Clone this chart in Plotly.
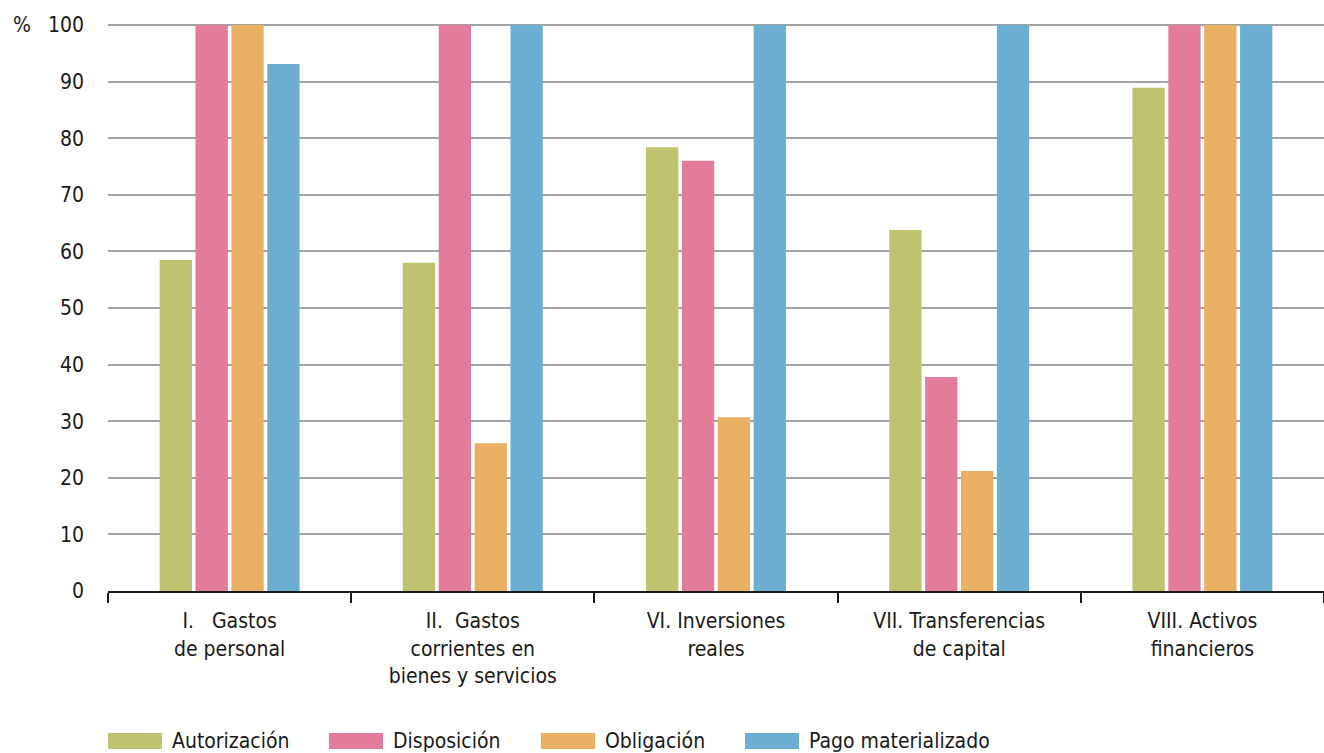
import plotly.graph_objects as go

categories = [
    "I.\u00a0\u00a0\u00a0Gastos<br>de personal",
    "II.\u00a0\u00a0Gastos<br>corrientes en<br>bienes y servicios",
    "VI. Inversiones<br>reales",
    "VII. Transferencias<br>de capital",
    "VIII. Activos<br>financieros",
]
series_names = ["Autorización", "Disposición", "Obligación", "Pago materializado"]
autorizacion = [58.5, 58.0, 78.4, 63.8, 88.9]
disposicion = [100, 100, 76.0, 37.8, 100]
obligacion = [100, 26.1, 30.7, 21.2, 100]
pago = [93.1, 100, 100, 100, 100]
series_values = [autorizacion, disposicion, obligacion, pago]
colors = ["#BFC26E", "#E37B9B", "#E9AF62", "#6BAED2"]
y_ticks = list(range(0, 101, 10))

FONT = "DejaVu Sans Condensed, Roboto, sans-serif"
FS = 21

fig = go.Figure()
for name, vals, col in zip(series_names, series_values, colors):
    fig.add_trace(go.Bar(x=categories, y=vals, name=name, marker_color=col,
                         marker_line_width=0, showlegend=False))

W, H = 1324, 753
ml, mr, mt, mb = 108, 0, 23, 162
pw = W - ml - mr
ph = H - mt - mb

fig.update_layout(
    width=W, height=H,
    margin=dict(l=ml, r=mr, t=mt, b=mb),
    plot_bgcolor="white", paper_bgcolor="white",
    barmode="group", bargap=0.41, bargroupgap=0.1,
    font=dict(family=FONT, size=FS, color="#1a1a1a"),
    xaxis=dict(
        tickson="boundaries", ticks="outside", ticklen=10, tickwidth=2,
        tickcolor="#1a1a1a", showline=True, linecolor="#1a1a1a", linewidth=2,
        showgrid=False, tickfont=dict(size=FS), ticklabelstandoff=10,
    ),
    yaxis=dict(
        range=[0, 100.35], tickvals=y_ticks, showgrid=True, gridcolor="#A3A3A3",
        gridwidth=2, zeroline=False, showline=False, ticks="",
        tickfont=dict(size=FS), ticklabelstandoff=23,
    ),
)

fig.add_annotation(text="%", xref="paper", yref="paper", x=(22 - ml) / pw,
                   y=(H - mb - 25) / ph, xanchor="center", yanchor="middle",
                   showarrow=False, font=dict(size=FS))

# custom legend
leg_x = [108, 329, 541, 745]
sw_w, sw_h = 54, 16
leg_yc = 741
for name, col, lx in zip(series_names, colors, leg_x):
    x0 = (lx - ml) / pw
    x1 = (lx + sw_w - ml) / pw
    y0 = (H - mb - (leg_yc + sw_h / 2)) / ph
    y1 = (H - mb - (leg_yc - sw_h / 2)) / ph
    fig.add_shape(type="rect", xref="paper", yref="paper", x0=x0, x1=x1, y0=y0, y1=y1,
                  fillcolor=col, line_width=0)
    fig.add_annotation(text=name, xref="paper", yref="paper",
                       x=(lx + sw_w + 8 - ml) / pw, y=(H - mb - leg_yc) / ph,
                       xanchor="left", yanchor="middle", showarrow=False,
                       font=dict(size=FS))

fig.write_html("out.html", config={"displayModeBar": False},
               post_script="document.body.style.margin='0';document.body.style.padding='0';")
